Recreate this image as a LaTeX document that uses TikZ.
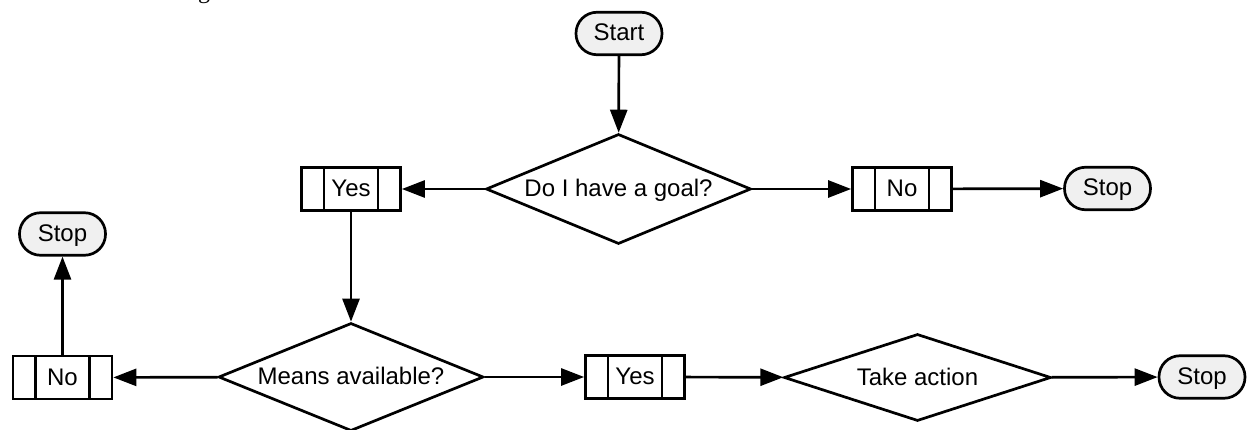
\documentclass[tikz,border=0pt]{standalone}
\usepackage{fontspec}
\setmainfont{Liberation Sans}
\newfontfamily\fragserif{Liberation Serif}
\usetikzlibrary{shapes.geometric,arrows.meta}
\definecolor{termfill}{RGB}{240,240,240}
\begin{document}
\begin{tikzpicture}[x=1pt,y=-1pt,
  every node/.style={font=\fontsize{24}{28}\selectfont, inner sep=0pt, line width=2.7pt},
  box text/.style={text height=17pt, text depth=2pt},
  term/.style={draw, fill=termfill, rounded corners=21pt, minimum width=86pt, minimum height=42.5pt, box text},
  decision/.style={draw, diamond, aspect=3, box text},
  proc/.style={draw, rectangle, minimum width=99pt, minimum height=43pt, box text,
    path picture={
      \draw[line width=2.7pt] ([xshift=22.5pt]path picture bounding box.north west) -- ([xshift=22.5pt]path picture bounding box.south west);
      \draw[line width=2.7pt] ([xshift=-22.5pt]path picture bounding box.north east) -- ([xshift=-22.5pt]path picture bounding box.south east);
    }},
  arr/.style={line width=2.7pt, -{Triangle[length=23pt,width=17pt]}}
]
\useasboundingbox (0,0) rectangle (1247,430);

% fragment of text cut off at the top edge (as in the reference)
\node[font=\fragserif\fontsize{24}{28}\selectfont, anchor=base] (frag) at (204,-1.5) {g};

\node[term] (start) at (619,33.5) {Start};
\node[decision, minimum width=265pt, minimum height=110pt] (d1) at (618.5,189) {Do I have a goal?};
\node[proc] (yes1) at (351,189) {Yes};
\node[proc] (no1) at (902,189) {No};
\node[term] (stop1) at (1107.5,188.5) {Stop};

\node[decision, minimum width=265pt, minimum height=108pt] (d2) at (351,377) {Means available?};
\node[proc] (no2) at (62.5,377.5) {No};
\node[term] (stop2) at (62.5,234) {Stop};
\node[proc] (yes2) at (635,377) {Yes};
\node[decision, minimum width=267pt, minimum height=87pt] (d3) at (917.5,377.5) {Take action};
\node[term] (stop3) at (1202,377) {Stop};

\draw[arr] (start) -- (d1);
\draw[arr] (d1) -- (yes1);
\draw[arr] (d1) -- (no1);
\draw[arr] (no1) -- (stop1);
\draw[arr] (yes1) -- (d2);
\draw[arr] (d2) -- (no2);
\draw[arr] (no2) -- (stop2);
\draw[arr] (d2) -- (yes2);
\draw[arr] (yes2) -- (d3);
\draw[arr] (d3) -- (stop3);
\end{tikzpicture}
\end{document}
